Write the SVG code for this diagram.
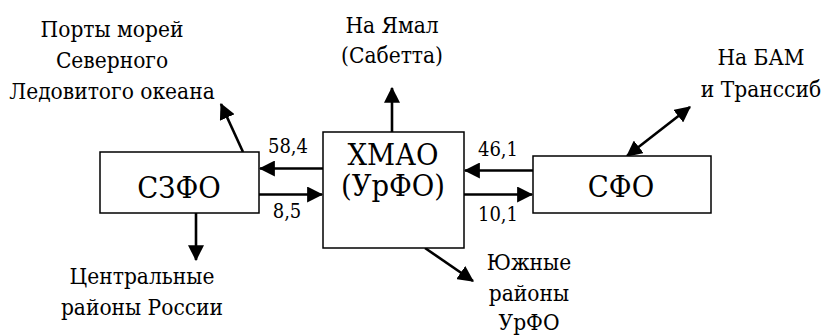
<svg xmlns="http://www.w3.org/2000/svg" width="827" height="335" viewBox="0 0 827 335">
  <style>
    text { font-family: "DejaVu Serif Condensed", "DejaVu Serif", serif; fill: #000; text-anchor: middle; }
    .box { fill: #fff; stroke: #000; stroke-width: 1.5; }
    .big { font-size: 30.5px; }
    .lbl { font-size: 22.5px; }
    .num { font-size: 20px; }
    .edge { stroke: #000; stroke-width: 2.6; fill: none; marker-end: url(#arr); }
    .both { marker-start: url(#arrs); }
  </style>
  <defs>
    <marker id="arr" markerUnits="userSpaceOnUse" markerWidth="16" markerHeight="16" viewBox="0 0 14 14" refX="13" refY="7" orient="auto">
      <path d="M0,0 L14,7 L0,14 Z" fill="#000"/>
    </marker>
    <marker id="arrs" markerUnits="userSpaceOnUse" markerWidth="16" markerHeight="16" viewBox="0 0 14 14" refX="1" refY="7" orient="auto">
      <path d="M14,0 L0,7 L14,14 Z" fill="#000"/>
    </marker>
  </defs>

  <g id="connectors">
    <line class="edge" x1="323" y1="168.5" x2="260" y2="168.5"/>
    <line class="edge" x1="259" y1="194.5" x2="322" y2="194.5"/>
    <line class="edge" x1="533" y1="170.5" x2="465" y2="170.5"/>
    <line class="edge" x1="464" y1="194.5" x2="532" y2="194.5"/>
    <line class="edge" x1="392" y1="132" x2="392" y2="88"/>
    <line class="edge" x1="243" y1="152" x2="221" y2="104"/>
    <line class="edge" x1="196" y1="213" x2="196" y2="260"/>
    <line class="edge both" x1="627" y1="156" x2="690" y2="107"/>
    <line class="edge" x1="425" y1="248" x2="473" y2="281"/>
  </g>

  <g id="szfo">
    <rect class="box" x="100" y="152" width="159" height="61"/>
    <text class="big" x="179" y="198">СЗФО</text>
  </g>
  <g id="hmao">
    <rect class="box" x="323" y="132" width="141" height="116"/>
    <text class="big" x="393" y="165">ХМАО</text>
    <text class="big" x="393" y="196">(УрФО)</text>
  </g>
  <g id="sfo">
    <rect class="box" x="533" y="156" width="178" height="57"/>
    <text class="big" x="621" y="197">СФО</text>
  </g>

  <g id="flow-labels">
    <text class="num" x="288" y="153">58,4</text>
    <text class="num" x="287" y="218">8,5</text>
    <text class="num" x="498" y="156">46,1</text>
    <text class="num" x="498" y="221">10,1</text>
  </g>

  <g id="ports">
    <text class="lbl" x="112" y="37">Порты морей</text>
    <text class="lbl" x="112" y="68">Северного</text>
    <text class="lbl" x="112" y="99">Ледовитого океана</text>
  </g>
  <g id="yamal">
    <text class="lbl" x="392" y="33">На Ямал</text>
    <text class="lbl" x="392" y="63">(Сабетта)</text>
  </g>
  <g id="bam">
    <text class="lbl" x="761" y="65">На БАМ</text>
    <text class="lbl" x="761" y="97">и Транссиб</text>
  </g>
  <g id="central">
    <text class="lbl" x="142" y="284">Центральные</text>
    <text class="lbl" x="142" y="315">районы России</text>
  </g>
  <g id="south">
    <text class="lbl" x="529" y="270">Южные</text>
    <text class="lbl" x="529" y="301">районы</text>
    <text class="lbl" x="529" y="330">УрФО</text>
  </g>
</svg>
